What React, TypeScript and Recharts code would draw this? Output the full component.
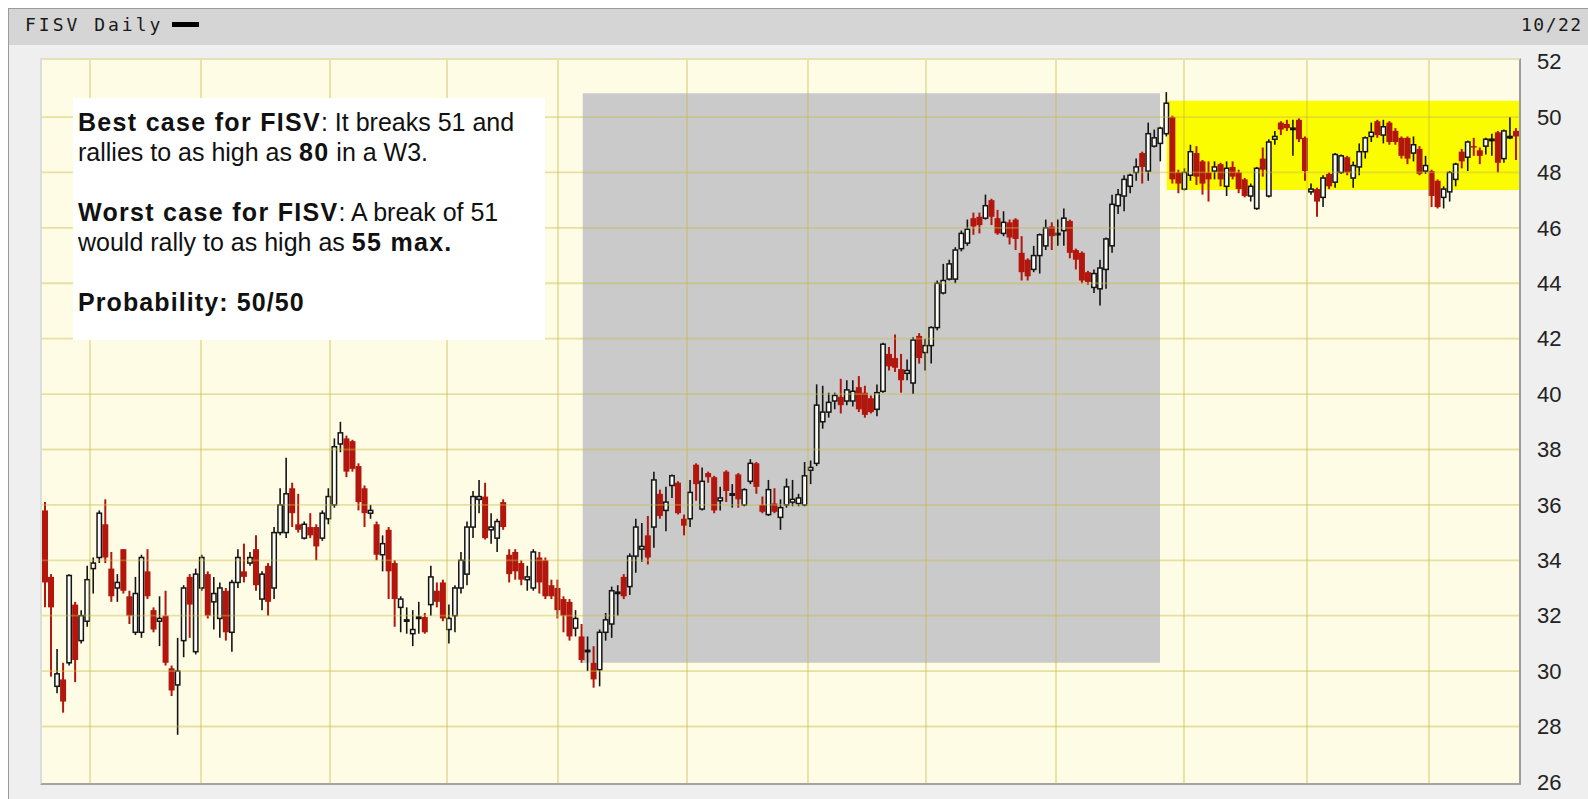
import React from 'react';
import { ComposedChart, Bar, XAxis, YAxis, ReferenceArea, ReferenceLine } from 'recharts';

// daily OHLC (left to right)
const opens = [
  35.8, 33.4, 29.45, 29.7, 30.3, 32.4, 31.1, 31.8, 33.7, 34.1,
  35.3, 33.7, 33.0, 34.4, 32.7, 31.4, 31.4, 33.6, 32.2, 31.8,
  32.0, 30.1, 29.5, 31.1, 33.4, 30.7, 33.0, 33.5, 32.5, 31.9,
  32.9, 31.4, 33.2, 33.6, 33.9, 34.4, 32.6, 33.8, 33.0, 35.0,
  35.0, 36.6, 35.3, 34.8, 35.2, 35.2, 34.8, 35.5, 36.0, 38.2,
  38.4, 38.3, 37.4, 36.6, 35.7, 35.3, 34.2, 35.1, 33.9, 32.3,
  31.8, 31.35, 31.9, 31.95, 32.4, 32.9, 33.2, 31.5, 32.0, 33.0,
  33.5, 35.2, 36.2, 36.3, 35.1, 34.8, 36.1, 34.2, 34.3, 33.9,
  33.3, 33.0, 34.1, 34.0, 33.1, 33.0, 32.6, 32.5, 31.55, 31.25,
  30.7, 30.3, 30.05, 31.4, 31.7, 32.8, 33.4, 33.05, 34.15, 34.4,
  34.9, 35.2, 36.4, 35.8, 36.7, 36.8, 35.5, 35.5, 37.45, 35.85,
  37.15, 37.0, 36.15, 37.2, 36.35, 37.1, 36.0, 36.85, 37.5, 36.0,
  35.65, 36.05, 35.55, 36.0, 36.1, 36.05, 36.0, 37.25, 37.5, 39.0,
  39.35, 39.75, 39.9, 39.75, 39.75, 40.25, 40.05, 39.85, 39.45, 40.1,
  41.45, 41.3, 40.9, 40.75, 40.4, 42.1, 41.5, 41.75, 42.4, 43.65,
  44.15, 44.15, 45.25, 45.45, 46.35, 46.4, 46.35, 47.0, 46.35, 45.8,
  46.2, 46.3, 45.1, 44.85, 44.5, 45.0, 45.35, 46.05, 45.75, 45.9,
  46.25, 45.2, 45.1, 44.4, 43.85, 43.8, 44.5, 45.35, 46.8, 47.15,
  47.5, 48.0, 48.7, 48.05, 48.95, 49.05, 49.4, 50.0, 48.0, 47.4,
  47.9, 48.7, 48.4, 48.0, 48.05, 48.3, 47.5, 48.2, 48.0, 47.75,
  47.15, 46.7, 48.5, 47.15, 49.2, 49.8, 49.75, 49.55, 49.9, 49.25,
  47.3, 47.4, 47.1, 47.95, 47.65, 48.0, 48.55, 47.8, 48.2, 48.75,
  49.3, 49.85, 49.35, 49.8, 49.5, 49.25, 49.25, 48.7, 48.85, 48.05,
  48.05, 47.7, 47.1, 47.3, 47.75, 48.75, 48.55, 48.95, 48.8, 48.95,
  49.15, 49.45, 48.5, 49.25, 49.5,
];

const highs = [
  36.1, 33.5, 30.8, 30.3, 33.5, 32.5, 32.2, 33.8, 34.1, 35.8,
  36.2, 34.3, 33.5, 34.4, 32.9, 33.4, 34.2, 34.4, 32.3, 32.7,
  32.9, 30.2, 31.2, 33.1, 33.5, 33.7, 34.2, 33.6, 33.4, 33.2,
  33.0, 33.3, 34.4, 34.6, 34.3, 34.9, 33.6, 33.9, 35.2, 36.6,
  37.7, 36.8, 36.4, 35.4, 35.7, 35.3, 35.8, 36.6, 38.4, 39.0,
  38.5, 38.35, 37.5, 36.7, 36.0, 35.4, 34.9, 35.2, 34.0, 32.7,
  32.3, 32.2, 32.5, 32.1, 33.8, 33.2, 33.3, 32.4, 33.1, 34.3,
  35.4, 36.5, 36.9, 36.8, 35.7, 35.5, 36.2, 34.4, 34.4, 34.0,
  33.8, 34.4, 34.3, 34.1, 33.3, 33.3, 32.7, 32.6, 32.2, 31.7,
  31.25, 30.9, 31.5, 32.1, 33.05, 33.1, 33.5, 34.25, 35.5, 35.35,
  35.6, 37.2, 36.55, 36.65, 37.1, 36.85, 35.65, 36.9, 37.5, 37.35,
  37.2, 37.05, 36.65, 37.25, 36.75, 37.15, 36.6, 37.65, 37.55, 36.3,
  36.9, 36.6, 36.2, 36.95, 36.9, 36.4, 37.55, 37.6, 40.35, 40.3,
  40.05, 40.05, 40.55, 40.5, 40.5, 40.65, 40.3, 39.95, 40.35, 41.85,
  41.7, 42.15, 41.45, 41.25, 42.05, 42.2, 42.0, 42.45, 44.1, 44.7,
  44.85, 45.3, 45.9, 46.3, 46.55, 46.55, 47.2, 47.05, 46.65, 46.6,
  46.3, 46.35, 45.7, 44.9, 45.35, 45.8, 46.3, 46.2, 46.3, 46.7,
  46.3, 45.25, 45.15, 44.45, 44.5, 44.85, 45.65, 47.2, 47.4, 47.9,
  47.95, 48.5, 48.75, 49.8, 49.55, 49.65, 50.9, 50.05, 48.1, 48.15,
  49.0, 48.95, 48.45, 48.4, 48.4, 48.35, 48.4, 48.4, 48.1, 47.8,
  47.6, 48.2, 48.9, 49.2, 49.5, 49.85, 49.9, 49.9, 49.95, 49.3,
  47.6, 47.45, 47.9, 48.0, 48.7, 48.65, 48.6, 48.4, 49.05, 49.3,
  49.8, 49.9, 49.9, 49.85, 49.6, 49.3, 49.3, 49.3, 48.95, 48.6,
  48.1, 47.75, 47.5, 48.05, 48.35, 48.85, 49.15, 49.25, 48.9, 49.25,
  49.4, 49.5, 49.55, 50.0, 49.6,
];

const lows = [
  32.3, 29.8, 29.2, 28.5, 30.2, 29.6, 31.0, 31.6, 32.8, 33.9,
  33.9, 32.5, 32.5, 32.8, 31.7, 31.3, 31.2, 32.6, 31.4, 30.9,
  30.2, 29.1, 27.7, 30.5, 31.2, 30.6, 32.9, 31.9, 31.5, 31.2,
  31.1, 30.7, 33.0, 33.2, 33.8, 32.9, 32.2, 32.0, 32.6, 34.9,
  34.8, 35.2, 35.0, 34.75, 34.8, 34.0, 34.7, 35.3, 35.9, 37.9,
  37.0, 37.2, 35.8, 35.2, 35.5, 34.0, 33.6, 32.6, 31.6, 31.4,
  31.35, 30.9, 31.35, 31.35, 32.0, 32.3, 31.8, 31.0, 31.4, 32.8,
  33.1, 34.8, 35.7, 34.75, 34.6, 34.3, 35.1, 33.2, 33.3, 33.1,
  32.9, 32.9, 32.8, 32.6, 32.6, 31.9, 31.4, 31.1, 31.25, 30.3,
  30.0, 29.4, 29.45, 31.1, 31.2, 32.0, 32.6, 32.75, 33.55, 33.95,
  33.85, 34.45, 35.5, 35.05, 36.25, 35.65, 34.9, 35.2, 36.15, 35.8,
  36.8, 35.7, 35.8, 36.1, 35.9, 35.9, 35.95, 36.75, 36.4, 35.7,
  35.6, 35.7, 35.1, 35.9, 35.95, 35.95, 35.95, 36.75, 37.4, 38.75,
  39.15, 39.45, 39.3, 39.6, 39.55, 39.35, 39.15, 39.3, 39.2, 40.05,
  40.85, 40.8, 40.05, 40.5, 40.0, 41.1, 40.85, 41.1, 42.3, 43.6,
  44.1, 44.0, 45.15, 45.35, 45.75, 45.8, 46.3, 46.1, 45.75, 45.7,
  45.4, 45.2, 44.1, 44.1, 44.4, 44.35, 45.2, 45.2, 45.35, 45.35,
  44.9, 44.5, 44.0, 43.95, 43.65, 43.2, 43.8, 45.1, 46.5, 46.6,
  47.25, 47.7, 47.6, 47.7, 48.9, 48.4, 49.3, 47.6, 47.25, 47.35,
  47.7, 47.55, 47.2, 46.95, 47.75, 47.5, 47.15, 47.75, 47.25, 47.1,
  46.95, 46.65, 47.85, 47.1, 49.0, 49.35, 49.5, 48.6, 49.1, 47.7,
  47.2, 46.4, 46.75, 47.4, 47.45, 47.95, 47.9, 47.45, 47.9, 48.5,
  49.1, 49.25, 49.05, 49.0, 49.0, 48.5, 48.3, 48.4, 47.9, 47.95,
  46.75, 46.7, 46.7, 46.95, 47.5, 48.15, 48.05, 48.6, 48.3, 48.65,
  48.6, 48.0, 48.35, 49.2, 48.45,
];

const closes = [
  33.2, 32.3, 29.9, 28.9, 33.45, 30.4, 32.0, 33.3, 33.9, 35.7,
  34.1, 32.7, 33.2, 32.9, 32.0, 32.8, 34.1, 32.7, 31.5, 31.9,
  30.3, 29.3, 30.0, 33.0, 32.4, 33.5, 34.1, 32.0, 32.8, 33.0,
  31.4, 33.2, 34.1, 33.4, 34.1, 33.1, 33.5, 32.5, 35.0, 36.0,
  36.4, 35.7, 35.1, 35.3, 34.9, 34.5, 35.7, 36.3, 38.1, 38.6,
  37.2, 37.3, 36.1, 35.7, 35.8, 34.2, 34.6, 33.6, 32.6, 32.6,
  31.85, 31.5, 31.95, 31.4, 33.4, 32.5, 31.9, 31.9, 33.0, 34.0,
  35.2, 36.3, 36.3, 34.8, 35.2, 35.4, 35.2, 33.5, 33.6, 33.3,
  33.4, 34.3, 33.2, 32.7, 32.7, 32.2, 32.0, 31.25, 31.9, 30.4,
  30.75, 29.7, 31.4, 31.85, 32.9, 32.85, 32.7, 34.15, 35.2, 34.5,
  34.1, 36.9, 35.6, 36.1, 37.05, 35.7, 35.25, 36.45, 36.75, 36.85,
  37.0, 35.8, 36.25, 36.5, 36.4, 36.2, 36.55, 37.5, 36.65, 35.75,
  36.55, 35.75, 35.9, 36.65, 36.2, 36.25, 37.05, 37.35, 39.6, 39.35,
  39.7, 39.95, 39.6, 40.15, 40.1, 39.45, 39.25, 39.35, 40.05, 41.8,
  41.0, 40.95, 40.5, 40.85, 41.95, 41.3, 41.75, 42.4, 44.0, 44.1,
  44.7, 45.2, 45.8, 45.95, 46.05, 46.1, 46.8, 46.4, 45.8, 46.2,
  45.65, 45.6, 44.4, 44.25, 45.0, 45.75, 46.0, 45.7, 45.8, 46.35,
  45.1, 44.85, 44.1, 44.05, 44.35, 44.55, 45.6, 46.85, 47.2, 47.75,
  47.9, 48.2, 48.2, 49.4, 49.25, 49.6, 50.5, 47.75, 47.6, 48.0,
  48.75, 47.85, 47.6, 47.75, 48.2, 47.75, 48.15, 47.85, 47.4, 47.15,
  47.5, 48.15, 48.1, 49.1, 49.3, 49.55, 49.6, 49.6, 49.2, 48.05,
  47.4, 46.95, 47.8, 47.5, 48.65, 48.6, 48.0, 48.25, 48.75, 49.25,
  49.45, 49.35, 49.65, 49.1, 49.1, 48.6, 48.5, 49.0, 47.95, 48.25,
  47.15, 46.75, 47.4, 48.0, 48.3, 48.4, 49.1, 48.9, 48.6, 49.2,
  49.2, 48.35, 49.5, 49.3, 49.3,
];

const priceTicks = [26, 28, 30, 32, 34, 36, 38, 40, 42, 44, 46, 48, 50, 52];
const gridPrices = [28, 30, 32, 34, 36, 38, 40, 42, 44, 46, 48, 50];
// month separators, in bar-index units
const monthLines = [7.46, 25.87, 47.27, 66.68, 85.09, 106.49, 126.56, 146.13, 167.7, 188.93, 209.33, 229.57];

// shaded zones (bar index / price)
const grayZone = { x1: 89.2, x2: 184.95, y1: 30.3, y2: 50.86 };
const yellowZone = { x1: 186.06, y1: 47.37, y2: 50.59 };

const N = opens.length;
const data = opens.map((o, i) => ({
  i,
  open: o,
  high: highs[i],
  low: lows[i],
  close: closes[i],
  range: [lows[i], highs[i]],
}));

const RED = '#b3160d';
const INK = '#141414';

const Candle = (props: any) => {
  const { x, y, width, height, payload } = props;
  if (!payload) return null;
  const { open, close, high, low } = payload;
  const h = Math.abs(height);
  const top = height < 0 ? y + height : y;
  const k = high > low ? h / (high - low) : 0;
  const yOf = (v: number) => top + (high - v) * k;
  const cx = x + width / 2;
  const up = close >= open;
  const bodyTop = yOf(Math.max(open, close));
  const bodyH = Math.max(1.4, yOf(Math.min(open, close)) - bodyTop);
  if (up) {
    return (
      <g>
        <line x1={cx} x2={cx} y1={top} y2={top + h} stroke={INK} strokeWidth={1.6} />
        <rect x={x + 0.8} y={bodyTop} width={width - 1.6} height={bodyH} fill="#fbfbf6" stroke={INK} strokeWidth={1.5} />
      </g>
    );
  }
  return (
    <g>
      <line x1={cx} x2={cx} y1={top} y2={top + h} stroke={RED} strokeWidth={2} />
      <rect x={x} y={bodyTop} width={width} height={bodyH} fill={RED} />
    </g>
  );
};

const gridColor = 'rgba(196, 186, 70, 0.42)';

export default function App() {
  return (
    <div style={{ position: 'absolute', left: 0, top: 0, width: 1588, height: 799, overflow: 'hidden', background: '#ffffff' }}>
      {/* outer panel + title bar */}
      <div style={{ position: 'absolute', left: 8, top: 8, width: 1580, height: 791, background: '#efefef', borderLeft: '1px solid #9a9a9a', borderTop: '1px solid #9a9a9a', boxSizing: 'border-box' }} />
      <div style={{ position: 'absolute', left: 9, top: 9, width: 1579, height: 36, background: '#d5d5d5' }} />
      <div style={{ position: 'absolute', left: 25, top: 13, fontFamily: '"DejaVu Sans Mono", monospace', fontSize: 18, letterSpacing: 3, color: '#1a1a1a', lineHeight: '24px', whiteSpace: 'nowrap' }}>
        FISV Daily
      </div>
      <div style={{ position: 'absolute', left: 172, top: 22, width: 27, height: 5, background: '#000' }} />
      <div style={{ position: 'absolute', left: 1521, top: 13, fontFamily: '"DejaVu Sans Mono", monospace', fontSize: 18, letterSpacing: 1.5, color: '#1a1a1a', lineHeight: '24px', whiteSpace: 'nowrap' }}>
        10/22
      </div>

      {/* plot background */}
      <div style={{ position: 'absolute', left: 40, top: 58, width: 1481, height: 727, background: '#fffce6', boxSizing: 'border-box', borderLeft: '2px solid #dcdcdc', borderTop: '2px solid #e4e0b8', borderRight: '2px solid #9c9c9c', borderBottom: '2px solid #a4a4a4' }} />

      <div style={{ position: 'absolute', left: 0, top: 0 }}>
        <ComposedChart width={1588} height={799} data={data} margin={{ top: 60, right: 9, bottom: 16, left: 42 }}>
          <XAxis dataKey="i" type="number" domain={[-0.5, N - 0.5]} hide allowDataOverflow />
          <YAxis
            orientation="right"
            type="number"
            domain={[25.96, 52.06]}
            ticks={priceTicks}
            allowDataOverflow
            axisLine={false}
            tickLine={false}
            tickSize={0}
            tickMargin={18}
            width={60}
            tick={{ fill: '#222', fontSize: 22, fontFamily: '"Liberation Sans", Arial, sans-serif' }}
          />
          <ReferenceArea x1={grayZone.x1} x2={grayZone.x2} y1={grayZone.y1} y2={grayZone.y2} fill="#cacaca" fillOpacity={1} stroke="none" />
          <ReferenceArea x1={yellowZone.x1} x2={N - 0.5} y1={yellowZone.y1} y2={yellowZone.y2} fill="#fcfc00" fillOpacity={1} stroke="none" />
          {gridPrices.map((p) => (
            <ReferenceLine key={'h' + p} y={p} stroke={gridColor} strokeWidth={1.8} />
          ))}
          {monthLines.map((m) => (
            <ReferenceLine key={'v' + m} x={m} stroke={gridColor} strokeWidth={1.8} />
          ))}
          <Bar dataKey="range" barSize={6} isAnimationActive={false} shape={(p: any) => <Candle {...p} />} />
        </ComposedChart>
      </div>

      {/* note box */}
      <div style={{ position: 'absolute', left: 73, top: 98, width: 472, height: 242, background: '#ffffff' }} />
      <div style={{ position: 'absolute', left: 78, top: 107, fontFamily: '"Liberation Sans", Arial, sans-serif', fontSize: 25, lineHeight: '30px', color: '#111', whiteSpace: 'nowrap' }}>
        <div><b style={{ letterSpacing: 1.3 }}>Best case for FISV</b>: It breaks 51 and</div>
        <div>rallies to as high as <b style={{ letterSpacing: 1.3 }}>80</b> in a W3.</div>
        <div style={{ height: 30 }} />
        <div><b style={{ letterSpacing: 1.3 }}>Worst case for FISV</b>: A break of 51</div>
        <div>would rally to as high as <b style={{ letterSpacing: 1.3 }}>55 max.</b></div>
        <div style={{ height: 30 }} />
        <div><b style={{ letterSpacing: 1.1 }}>Probability: 50/50</b></div>
      </div>
    </div>
  );
}
